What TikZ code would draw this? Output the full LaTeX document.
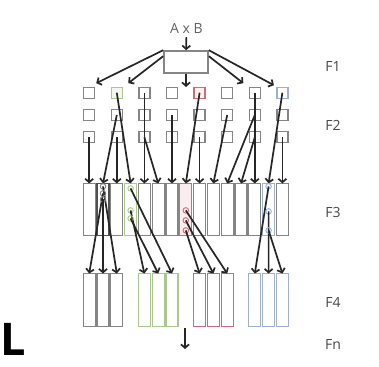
\documentclass[tikz,border=0pt]{standalone}
\usepackage{fontspec}
\setsansfont{Open Sans}
\usetikzlibrary{scopes,chains,calc,positioning,arrows.meta}

\definecolor{boxgray}{HTML}{858585}
\definecolor{ink}{HTML}{262626}
\definecolor{lgreen}{HTML}{ABC88C}
\definecolor{lred}{HTML}{D06A7A}
\definecolor{lblue}{HTML}{9FAFD3}

\begin{document}
\begin{tikzpicture}[
    x = 1pt, y = -1pt,
    line width = 1.3pt,
    font = \sffamily,
	sq/.style   = { draw=boxgray, minimum size=11pt, inner sep=0pt, outer sep=0pt, on chain },
	gsq/.style  = { sq, draw=lgreen, fill=lgreen!15 },
	rsq/.style  = { sq, draw=lred, fill=lred!10 },
	bsq/.style  = { sq, draw=lblue },
	bar/.style  = { draw=boxgray, minimum width=12pt, minimum height=52pt,
	                inner sep=0pt, outer sep=0pt, on chain },
	kbar/.style = { bar, draw=boxgray!60!black },
	gbar/.style = { bar, draw=lgreen },
	rbar/.style = { bar, draw=lred, fill=lred!12 },
	bbar/.style = { bar, draw=lblue },
	tall/.style = { bar, minimum height=53pt },
	hole/.style = { circle, draw=#1, line width=0.9pt, minimum size=5.5pt, inner sep=0pt },
	flabel/.style = { text=black!72, font=\sffamily\fontsize{14}{14}\selectfont },
  connect line/.style = { ink, line width = 1.7pt, -{Straight Barb[length=3.5pt,width=8pt]} }
]
\clip (0,0) rectangle (379,366);
\fill[white] (0,0) rectangle (379,366);

% F1
\node (axb) [flabel, text=black!62] at (186.5,28) {A x B};
\node (fone) [draw=boxgray, line width=1.6pt, minimum width=44pt,
              minimum height=22pt, inner sep=0pt] at (186,62) {};
\coordinate (fonedown) at (186,87);
\draw[connect line] (axb) -- (fone);
\draw[connect line] (fone) -- (fonedown);

% F2
{ [shift={(89.2,92.7)}, start chain=ftwoa going right, node distance=16.6pt]
	\foreach \t in {sq,gsq,sq,sq,rsq,sq,sq,bsq} \node[\t] {}; }
{ [shift={(89.2,115)}, start chain=ftwob going right, node distance=16.6pt]
	\foreach \t in {sq,sq,sq,sq,sq,sq,sq,sq} \node[\t] {}; }
{ [shift={(89.2,137.3)}, start chain=ftwoc going right, node distance=16.6pt]
	\foreach \t in {sq,sq,sq,sq,sq,sq,sq,sq} \node[\t] {}; }

\draw[connect line] (fone.north west) -- ([xshift=1.5pt,yshift=4pt]ftwoa-1.north east);
\draw[connect line] ([yshift=-6pt]fone.north west) -- ([xshift=6pt,yshift=4pt]ftwoa-2.north east);
\draw[connect line] ([yshift=-6pt]fone.north east) -- ([xshift=-6pt,yshift=4pt]ftwoa-7.north west);
\draw[connect line] (fone.north east) -- ([xshift=-3pt,yshift=2pt]ftwoa-8.north west);

% F3
{ [shift={(89.2,209.4)}, start chain=fthree going right, node distance=1.8pt]
	\foreach \t in {bar,kbar,bar,gbar,bar,bar,bar,rbar,bar,bar,bar,bar,bar,bbar,bar}
	  \node[\t] {}; }

% F4
{ [shift={(89.2,300)}, start chain=fourgray going right, node distance=1.8pt]
	\foreach \n in {1,2,3} \node[tall] {}; }
{ [shift={(144.4,300)}, start chain=fourgreen going right, node distance=1.8pt]
	\foreach \n in {1,2,3} \node[tall, draw=lgreen] {}; }
{ [shift={(199.6,300)}, start chain=fourred going right, node distance=1.8pt]
	\foreach \n in {1,2,3} \node[tall, draw=lred] {}; }
{ [shift={(254.8,300)}, start chain=fourblue going right, node distance=1.8pt]
	\foreach \n in {1,2,3} \node[tall, draw=lblue] {}; }

\foreach \s/\k in {ftwoc-1/1, ftwob-2/2, ftwoc-2/3, ftwoa-2/4, ftwoa-3/5,
    ftwoc-3/6, ftwob-4/7, ftwoa-5/8, ftwoc-5/9, ftwob-6/10, ftwob-7/11,
    ftwoc-7/12, ftwoa-7/13, ftwoa-8/14, ftwoc-8/15}
  \draw[connect line] (\s.center) -- (fthree-\k.north);

\foreach \grp/\k/\col/\dy/\m in {gray/2/boxgray/3/3, gray/2/boxgray/10/1,
    gray/2/boxgray/16/2, green/4/lgreen/5/3, green/4/lgreen/27/1,
    green/4/lgreen/35/2, red/8/lred/27/3, red/8/lred/37/2, red/8/lred/47/1,
    blue/14/lblue/3/1, blue/14/lblue/28/2, blue/14/lblue/47/3}
{
  \node (h\grp-\m) [hole=\col] at ($(fthree-\k.north)+(0,\dy)$) {};
  \draw[connect line] (h\grp-\m.center) -- (four\grp-\m.north);
}

\coordinate (ffourout) at (185,328);
\coordinate (fnin) at (185,349);
\draw[connect line] (ffourout) -- (fnin);

% labels
\foreach \txt/\y in {F1/67, F2/125, F3/212, F4/302, Fn/344}
  \node (lab\txt) [flabel] at (333,\y) {\txt};

\node (bigL) [anchor=base west, inner sep=0pt,
              font=\sffamily\bfseries\fontsize{45}{45}\selectfont] at (0,355) {L};

\end{tikzpicture}
\end{document}
